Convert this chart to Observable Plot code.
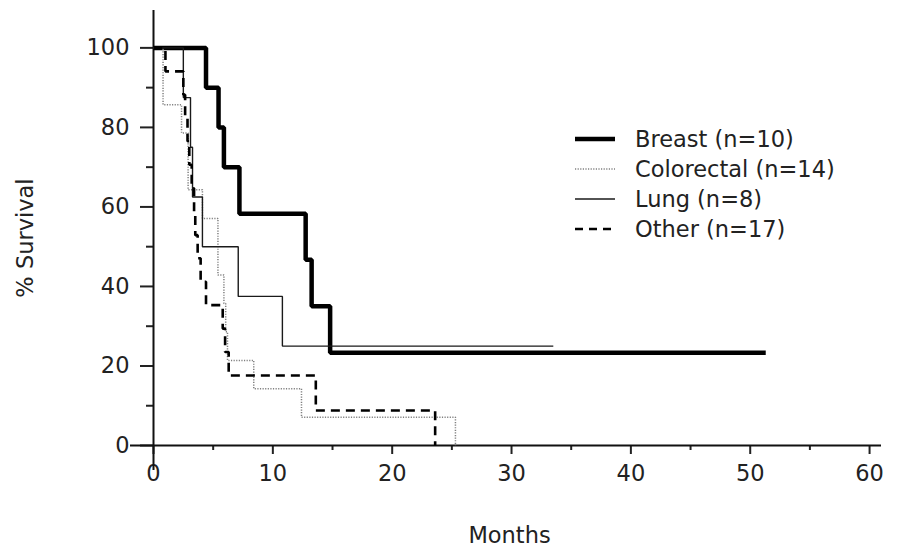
<!DOCTYPE html>
<html><head><meta charset="utf-8">
<script src="https://cdn.jsdelivr.net/npm/d3@7"></script>
<script src="https://cdn.jsdelivr.net/npm/@observablehq/plot@0.6"></script>
<style>
body{margin:0;background:#fff;}
#wrap{position:relative;width:908px;height:548px;font-family:"DejaVu Sans",sans-serif;}
#legend{position:absolute;left:575px;top:124px;}
.row{display:flex;align-items:center;height:30px;font-size:22.5px;color:#222;}
.row svg{margin-right:20px;}
</style></head><body><div id="wrap"><div id="legend"></div></div>
<script>
// Series names
const groups = ["Breast (n=10)", "Colorectal (n=14)", "Lung (n=8)", "Other (n=17)"];

// Kaplan-Meier steps: months (time of step) and % survival after step
const breastMonths = [0, 4.4, 5.45, 5.9, 7.2, 12.75, 13.25, 14.8, 51.3];
const breastSurv   = [100, 90, 80, 70, 58.3, 46.7, 35, 23.3, 23.3];

const colorectalMonths = [0, 0.8, 2.35, 2.9, 4.1, 5.4, 5.9, 6.05, 6.2, 8.4, 12.4, 25.3];
const colorectalSurv   = [100, 85.7, 78.6, 64.3, 57.1, 42.9, 35.7, 28.6, 21.4, 14.3, 7.1, 0];

const lungMonths = [0, 2.5, 3.1, 3.27, 4.1, 7.1, 10.8, 33.5];
const lungSurv   = [100, 87.5, 75, 62.5, 50, 37.5, 25, 25];

const otherMonths = [0, 1.0, 2.5, 2.65, 2.85, 3.0, 3.2, 3.4, 3.5, 3.7, 3.95, 4.4, 5.8, 6.0, 6.3, 13.6, 23.6];
const otherSurv   = [100, 94.1, 88.2, 82.4, 76.5, 70.6, 64.7, 58.8, 52.9, 47.1, 41.2, 35.3, 29.4, 23.5, 17.6, 8.8, 0];

// Axis ticks
const xMajor = [0, 10, 20, 30, 40, 50, 60];
const xMinor = [5, 15, 25, 35, 45, 55];
const yMajor = [0, 20, 40, 60, 80, 100];
const yMinor = [10, 30, 50, 70, 90];

const xLabel = "Months";
const yLabel = "% Survival";

const seriesData = [
  [breastMonths, breastSurv],
  [colorectalMonths, colorectalSurv],
  [lungMonths, lungSurv],
  [otherMonths, otherSurv]
];
const rows = seriesData.flatMap(([ms, ss], i) => ms.map((m, j) => ({group: groups[i], month: m, surv: ss[j]})));

const styles = {
  "Breast (n=10)":     {stroke: "#000", strokeWidth: 4.5, dash: null},
  "Colorectal (n=14)": {stroke: "#808080", strokeWidth: 1.5, dash: "1.2,1.4"},
  "Lung (n=8)":        {stroke: "#1a1a1a", strokeWidth: 1.4, dash: null},
  "Other (n=17)":      {stroke: "#000", strokeWidth: 2.6, dash: "9,6"}
};

const lineMarks = groups.map(g => Plot.line(rows.filter(d => d.group === g), {
  x: "month", y: "surv", curve: "step-after",
  stroke: styles[g].stroke, strokeWidth: styles[g].strokeWidth,
  strokeDasharray: styles[g].dash, strokeLinejoin: "miter", strokeLinecap: "butt"
}));

const chart = Plot.plot({
  width: 908, height: 548,
  marginLeft: 153, marginRight: 27, marginTop: 10, marginBottom: 103,
  style: {fontFamily: "DejaVu Sans", fontSize: "22.5px", color: "#222", background: "#fff"},
  x: {domain: [0, 61]},
  y: {domain: [0, 109.4]},
  marks: [
    Plot.axisX({ticks: xMajor, tickSize: 9, tickPadding: 11, tickFormat: d => d, label: null, strokeWidth: 2}),
    Plot.axisX({ticks: xMinor, tickSize: 5, tickFormat: () => "", label: null, strokeWidth: 2}),
    Plot.axisY({ticks: yMajor, tickSize: 13, tickPadding: 11, tickFormat: d => d, label: null, strokeWidth: 2}),
    Plot.axisY({ticks: yMinor, tickSize: 7, tickFormat: () => "", label: null, strokeWidth: 2}),
    Plot.ruleX([0], {stroke: "#111", strokeWidth: 2, insetBottom: -25}),
    Plot.ruleY([0], {stroke: "#111", strokeWidth: 2, insetLeft: -23}),
    ...lineMarks,
    Plot.text([xLabel], {frameAnchor: "bottom", textAnchor: "middle", dy: 97, dx: -8, fontSize: 22.5, fill: "#222"}),
    Plot.text([yLabel], {frameAnchor: "left", textAnchor: "middle", dx: -128, dy: 10, rotate: -90, fontSize: 22.5, fill: "#222"})
  ]
});
document.getElementById("wrap").prepend(chart);

// Legend
const legend = document.getElementById("legend");
groups.forEach(g => {
  const s = styles[g];
  const row = document.createElement("div");
  row.className = "row";
  row.innerHTML = `<svg width="40" height="10"><line x1="0" x2="40" y1="5" y2="5" stroke="${s.stroke}" stroke-width="${s.strokeWidth}" ${s.dash ? `stroke-dasharray="${g.startsWith("Other") ? "8,6" : s.dash}"` : ""}/></svg><span>${g}</span>`;
  legend.appendChild(row);
});
</script>
</body></html>
